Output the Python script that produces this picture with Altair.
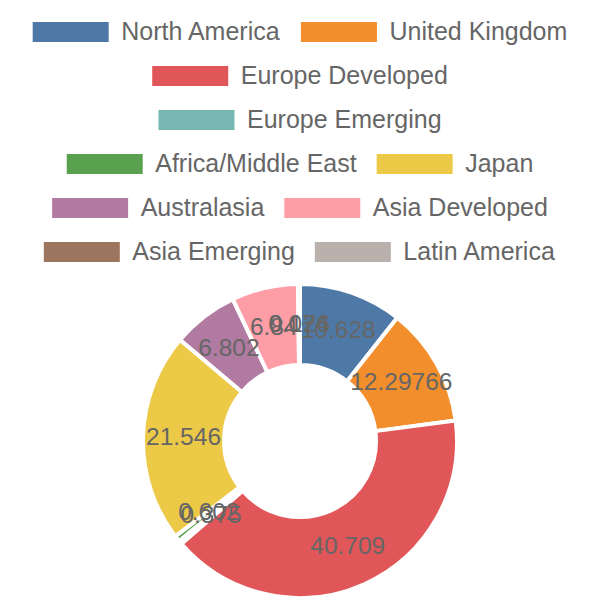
import altair as alt
import pandas as pd

# ---- data ----
categories = ["North America", "United Kingdom", "Europe Developed", "Europe Emerging",
              "Africa/Middle East", "Japan", "Australasia", "Asia Developed",
              "Asia Emerging", "Latin America"]
values = [10.628, 12.29766, 40.709, 0.375, 0.602, 21.546, 6.802, 6.84, 0.074, 0.126]
colors = ["#4e79a7", "#f28e2b", "#e15759", "#76b7b2", "#59a14f",
          "#edc948", "#b07aa1", "#ff9da7", "#9c755f", "#bab0ac"]

# ---- layout / style ----
W, H = 600, 600
FONT = "Liberation Sans"
TEXT_COLOR = "#666666"
LEG_FONT = 25
LABEL_FONT = 24.5
BOX_W, BOX_H = 76, 20
BOX_TEXT_GAP = LEG_FONT / 2
ITEM_GAP = 20
ROW_H = 44
ROW0_Y = 32
MAX_ROW_W = 580
CX, CY = 300, 441
R_OUT, R_IN = 157, 76

# Arial / Liberation Sans advance widths (per 1000 em)
CW = {" ": 278, "/": 278, "A": 667, "N": 722, "U": 722, "K": 667, "E": 667, "D": 722,
      "M": 833, "J": 500, "L": 556, "a": 556, "c": 500, "d": 556, "e": 556, "f": 278,
      "g": 556, "h": 556, "i": 222, "l": 222, "m": 833, "n": 556, "o": 556, "p": 556,
      "r": 333, "s": 500, "t": 278, "u": 556, "v": 500}


def tw(s):
    return sum(CW.get(c, 556) for c in s) * LEG_FONT / 1000.0


# greedy row wrapping like Chart.js
rows, cur, cur_w = [], [], 0.0
for c in categories:
    iw = BOX_W + BOX_TEXT_GAP + tw(c)
    add = iw if not cur else ITEM_GAP + iw
    if cur and cur_w + add > MAX_ROW_W:
        rows.append((cur, cur_w))
        cur, cur_w = [c], iw
    else:
        cur.append(c)
        cur_w += add
rows.append((cur, cur_w))

leg = []
for ri, (items, rw) in enumerate(rows):
    x = W / 2 - rw / 2
    yc = ROW0_Y + ri * ROW_H
    for c in items:
        leg.append({"cat": c, "bx0": x, "bx1": x + BOX_W, "tx": x + BOX_W + BOX_TEXT_GAP,
                    "y": yc, "y0": yc - BOX_H / 2, "y1": yc + BOX_H / 2})
        x += BOX_W + BOX_TEXT_GAP + tw(c) + ITEM_GAP
leg_df = pd.DataFrame(leg)

pie_df = pd.DataFrame({"cat": categories, "value": values,
                       "label": [str(v) for v in values],
                       "idx": list(range(len(categories)))})

color = alt.Color("cat:N", scale=alt.Scale(domain=categories, range=colors), legend=None)

leg_boxes = alt.Chart(leg_df).mark_rect().encode(
    x=alt.X("bx0:Q", scale=None), x2="bx1:Q",
    y=alt.Y("y0:Q", scale=None), y2="y1:Q",
    color=color,
)
leg_text = alt.Chart(leg_df).mark_text(
    align="left", baseline="middle", font=FONT, fontSize=LEG_FONT, color=TEXT_COLOR
).encode(
    x=alt.X("tx:Q", scale=None), y=alt.Y("y:Q", scale=None), text="cat:N"
)

base = alt.Chart(pie_df).encode(
    theta=alt.Theta("value:Q", stack=True),
    order=alt.Order("idx:Q"),
)
arcs = base.mark_arc(outerRadius=R_OUT, innerRadius=R_IN, stroke="white", strokeWidth=4).encode(
    color=color, x=alt.value(CX), y=alt.value(CY)
)
labels = base.mark_text(
    radius=(R_OUT + R_IN) / 2, font=FONT, fontSize=LABEL_FONT, color=TEXT_COLOR,
    align="center", baseline="middle"
).encode(text="label:N", x=alt.value(CX), y=alt.value(CY))

chart = alt.layer(leg_boxes, leg_text, arcs, labels).properties(
    width=W, height=H, padding=0, autosize=alt.AutoSizeParams(type="none")
).configure_view(stroke=None)

chart.save("out.html", embed_options={"renderer": "svg", "actions": False})
